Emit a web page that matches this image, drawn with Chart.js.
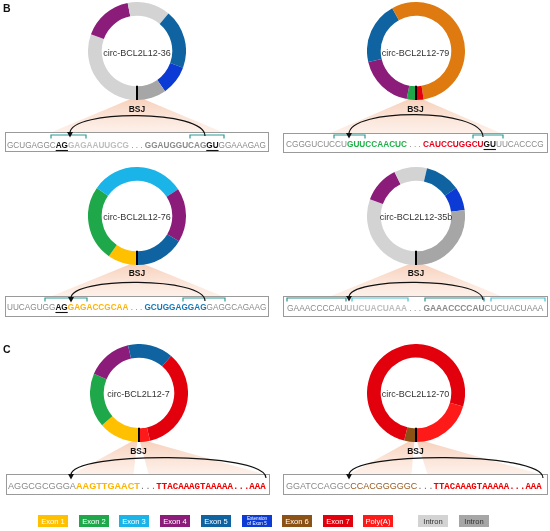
<!DOCTYPE html>
<html><head><meta charset="utf-8">
<script src="https://cdn.jsdelivr.net/npm/chart.js@4.4.0/dist/chart.umd.min.js"></script>
<style>
html,body{margin:0;padding:0;background:#fff;}
#wrap{position:relative;width:550px;height:531px;overflow:hidden;font-family:"Liberation Sans",Arial,sans-serif;}
.ring{position:absolute;width:98px;height:98px;}
svg{position:absolute;left:0;top:0;}
text{white-space:pre;}
</style></head><body>
<div id="wrap">
<svg id="under" width="550" height="531"></svg>
<div class="ring" id="r0"><canvas></canvas></div>
<div class="ring" id="r1"><canvas></canvas></div>
<div class="ring" id="r2"><canvas></canvas></div>
<div class="ring" id="r3"><canvas></canvas></div>
<div class="ring" id="r4"><canvas></canvas></div>
<div class="ring" id="r5"><canvas></canvas></div>
<svg id="over" width="550" height="531"></svg>
</div>
<script>
// ---------- DATA ----------
const circleNames = ['circ-BCL2L12-36','circ-BCL2L12-79','circ-BCL2L12-76','circ-BCL2L12-35b','circ-BCL2L12-7','circ-BCL2L12-70'];
// segment arc sizes (degrees), clockwise starting at the BSJ (bottom)
const seg36  = [110, 59, 51, 70, 35, 35];
const seg79  = [11, 66, 74, 200, 9];
const seg76  = [35, 90, 112, 64, 59];
const seg35b = [110, 44, 39, 42, 28, 97];
const seg7   = [49, 64, 54, 54, 126, 13];
const seg70  = [14, 272, 74];
const part36  = ['intL','ex4','intL','ex5','ext5','intD'];
const part79  = ['ex2','ex4','ex5','orange','ex7'];
const part76  = ['ex1','ex2','ex3','ex4','ex5'];
const part35b = ['intL','ex4','intL','ex5','ext5','intD'];
const part7   = ['ex1','ex2','ex4','ex5','ex7','polyA'];
const part70  = ['ex6','ex7','polyA'];
const legendLabels = ['Exon 1','Exon 2','Exon 3','Exon 4','Exon 5','Extension of Exon 5','Exon 6','Exon 7','Poly(A)','Intron','Intron'];
const legendParts  = ['ex1','ex2','ex3','ex4','ex5','ext5','ex6','ex7','polyA','intL','intD'];
// sequences: [text, style]
const seq36  = [['GCUGAGGC','g'],['AG','k'],['GAGAAUUGCG','l'],[' . . . ','g'],['GGAUGGUCAG','d'],['GU','k'],['GGAAAGAG','g']];
const seq79  = [['CGGGUCUCCU','g'],['GUUCCAACUC','grn'],[' . . . ','g'],['CAUCCUGGCU','red'],['GU','k'],['UUCACCCG','g']];
const seq76  = [['UUCAGUGG','g'],['AG','k'],['GAGACCGCAA','yel'],[' . . . ','g'],['GCUGGAGGAG','blu'],['GAGGCAGAAG','g']];
const seq35b = [['GAAACCCCAU','g'],['UUCUACUAAA','l'],[' . . . ','g'],['GAAACCCCAU','d'],['CUCUACUAAA','g']];
const seq7   = [['AGGCGCGGGA','g'],['AAGTTGAACT','yel'],['...','gm'],['TTACAAAGTAAAAA...AAA','redm']];
const seq70  = [['GGATCCAGGC','g'],['CCACGGGGGC','brn'],['...','gm'],['TTACAAAGTAAAAA...AAA','redm']];

// ---------- STYLE ----------
const COL = {ex1:'#FFC000', ex2:'#1FA84A', ex3:'#1BB4E8', ex4:'#8C1C7A', ex5:'#0E63A0', ext5:'#0B3BD4',
  ex6:'#8C5114', ex7:'#E2000C', polyA:'#FF1A1A', intL:'#D3D3D3', intD:'#A6A6A6', orange:'#DE7A10'};
const SEQSTYLE = {
  g:{fill:'#8a8a8a',w:'normal'}, l:{fill:'#bdbdbd',w:'bold'}, d:{fill:'#8a8a8a',w:'bold'}, k:{fill:'#111',w:'bold',u:true},
  grn:{fill:'#1FB04A',w:'bold'}, red:{fill:'#E8001A',w:'bold'}, yel:{fill:'#FFB400',w:'bold'}, blu:{fill:'#1378B8',w:'bold'},
  brn:{fill:'#9A5A1E',w:'normal'}, gm:{fill:'#777',w:'normal',f:'"Liberation Mono",monospace'},
  redm:{fill:'#F00000',w:'bold',f:'"Liberation Mono",monospace'}
};

// ---------- LAYOUT ----------
const panels = [
 {seg:seg36, part:part36, seq:seq36, cx:137, cy:51, lblY:55.5, bsjY:111.5, box:[5,132,263,19], sx:7, sw:259, sy:148,
  arrows:[[205,136,70,136,109.3]], br:[[51,86,135,'#2a9a96'],[190,224,135,'#2a9a96']], fans:[[-85,85]]},
 {seg:seg79, part:part79, seq:seq79, cx:415.5, cy:51, lblY:55.5, bsjY:111.5, box:[283,133,264,19], sx:286, sw:258, sy:147,
  arrows:[[483,137,349,137,107.7]], br:[[334,365,135,'#2a9a96'],[473,503,135,'#2a9a96']], fans:[[-85,85]]},
 {seg:seg76, part:part76, seq:seq76, cx:137, cy:216, lblY:220, bsjY:276, box:[5,296,263,20], sx:7, sw:260, sy:310,
  arrows:[[205,301,71,301,276.7]], br:[[45,87,298,'#2a9a96'],[183,225,298,'#2a9a96']], fans:[[-85,85]]},
 {seg:seg35b, part:part35b, seq:seq35b, cx:416, cy:216, lblY:219.5, bsjY:276, box:[283,296,264,20], sx:287, sw:257, sy:311,
  arrows:[[483,300,349,300,277]], br:[[287,346,298,'#2b8f8a'],[352,408,298,'#48c0cf'],[425,484,298,'#2b8f8a'],[491,545,298,'#48c0cf']], fans:[[-85,85]]},
 {seg:seg7, part:part7, seq:seq7, cx:138.5, cy:393, lblY:397, bsjY:454, box:[6,474,263,20], sx:8, sw:258, sy:489,
  arrows:[[266,478,71,478,451.3]], br:[], fans:[[-66,-5],[10,125]]},
 {seg:seg70, part:part70, seq:seq70, cx:415.5, cy:393, lblY:397, bsjY:454, box:[283,474,264,20], sx:286, sw:256, sy:489,
  arrows:[[543,478,349,478,451.3]], br:[], fans:[[-66,-4],[12,124]]}
];
const legendX = [38,79,119,160,201,242,282,323,363,418,459];

// ---------- DRAW ----------
const NS = 'http://www.w3.org/2000/svg';
const under = document.getElementById('under');
const over = document.getElementById('over');
function el(parent, tag, attrs, txt){ const e=document.createElementNS(NS,tag); for(const k in attrs) e.setAttribute(k,attrs[k]); if(txt!==undefined) e.textContent=txt; parent.appendChild(e); return e; }

const defs = el(under,'defs',{});
const grad = el(defs,'linearGradient',{id:'peach',x1:0,y1:0,x2:0,y2:1});
el(grad,'stop',{offset:'0%','stop-color':'#F6C7AE','stop-opacity':'0.85'});
el(grad,'stop',{offset:'100%','stop-color':'#FBE2D4','stop-opacity':'0.5'});

const bsjPlugin = {id:'bsj', afterDatasetsDraw(chart){
  const a = chart.getDatasetMeta(0).data[0]; const ctx = chart.ctx;
  ctx.save(); ctx.strokeStyle='#000'; ctx.lineWidth=2;
  ctx.beginPath(); ctx.moveTo(a.x, a.y + a.innerRadius - 0.5); ctx.lineTo(a.x, a.y + a.outerRadius); ctx.stroke(); ctx.restore();
}};

panels.forEach((p,i)=>{
  const div = document.getElementById('r'+i);
  div.style.left = (p.cx-49)+'px'; div.style.top = (p.cy-49)+'px';
  new Chart(div.querySelector('canvas'), {
    type:'doughnut',
    data:{labels:p.part, datasets:[{data:p.seg, backgroundColor:p.part.map(k=>COL[k]), borderWidth:0}]},
    options:{responsive:true, maintainAspectRatio:false, animation:false, rotation:180, cutout:'72%', events:[],
      layout:{padding:0}, plugins:{legend:{display:false}, tooltip:{enabled:false}}},
    plugins:[bsjPlugin]
  });
  // fans
  const apexY = p.cy + 47;
  p.fans.forEach(f=>{
    const a1 = p.cx + (f[0] < 0 ? -4 : 1), a2 = p.cx + (f[1] > 0 ? 4 : -1);
    el(under,'polygon',{points:`${a1},${apexY} ${a2},${apexY} ${p.cx+f[1]},${p.box[1]} ${p.cx+f[0]},${p.box[1]}`, fill:'url(#peach)'});
  });
  // label inside circle
  el(over,'text',{x:p.cx, y:p.lblY, 'text-anchor':'middle', 'font-size':'9px', fill:'#333'}, circleNames[i]);
  // BSJ
  el(over,'text',{x:p.cx, y:p.bsjY, 'text-anchor':'middle', 'font-size':'8.5px', 'font-weight':'bold', fill:'#111'}, 'BSJ');
  // box
  el(over,'rect',{x:p.box[0]+0.5, y:p.box[1]+0.5, width:p.box[2], height:p.box[3], fill:'none', stroke:'#9a9a9a', 'stroke-width':1});
  // sequence (font size fitted so the natural width equals the target width)
  const t = el(over,'text',{x:p.sx, y:p.sy, 'font-size':'10px'});
  let idx = 0; const unders = [];
  p.seq.forEach(([s,k])=>{
    const st = SEQSTYLE[k];
    const ts = el(t,'tspan',{fill:st.fill, 'font-weight':st.w}, s);
    if(st.f) ts.setAttribute('font-family', st.f);
    if(st.u) unders.push([idx, idx+s.length-1]);
    idx += s.length;
  });
  const natural = t.getComputedTextLength();
  t.setAttribute('font-size', (10 * p.sw / natural).toFixed(3) + 'px');
  unders.forEach(([a,b])=>{
    const x1 = t.getStartPositionOfChar(a).x, x2 = t.getEndPositionOfChar(b).x;
    el(over,'line',{x1:x1, x2:x2, y1:p.sy+2.5, y2:p.sy+2.5, stroke:'#111', 'stroke-width':1.1});
  });
  // brackets
  p.br.forEach(([x1,x2,y,c])=>{
    el(over,'path',{d:`M${x1} ${y+3.5} L${x1} ${y} L${x2} ${y} L${x2} ${y+3.5}`, fill:'none', stroke:c, 'stroke-width':1.2});
  });
  // arrows
  p.arrows.forEach(([x1,y1,x2,y2,c])=>{
    el(over,'path',{d:`M${x1} ${y1} C${x1} ${c} ${x2} ${c} ${x2} ${y2-3}`, fill:'none', stroke:'#111', 'stroke-width':1.2});
    el(over,'polygon',{points:`${x2-3},${y2-4} ${x2+3},${y2-4} ${x2},${y2+1.5}`, fill:'#111'});
  });
});

// panel letters
el(over,'text',{x:3, y:12, 'font-size':'10.5px', 'font-weight':'bold', fill:'#111'}, 'B');
el(over,'text',{x:3, y:352.5, 'font-size':'10.5px', 'font-weight':'bold', fill:'#111'}, 'C');

// legend
legendLabels.forEach((lab,i)=>{
  const x = legendX[i], y = 515, w = 30, h = 12;
  el(over,'rect',{x:x, y:y, width:w, height:h, fill:COL[legendParts[i]]});
  const dark = legendParts[i].startsWith('int');
  const fill = dark ? '#333' : '#fff';
  if(lab.startsWith('Extension')){
    el(over,'text',{x:x+w/2, y:y+5, 'text-anchor':'middle', 'font-size':'4.6px', fill:fill}, 'Extension');
    el(over,'text',{x:x+w/2, y:y+10.3, 'text-anchor':'middle', 'font-size':'4.6px', fill:fill}, 'of Exon 5');
  } else {
    el(over,'text',{x:x+w/2, y:y+9, 'text-anchor':'middle', 'font-size':'7.6px', fill:fill}, lab);
  }
});
</script>
</body></html>
